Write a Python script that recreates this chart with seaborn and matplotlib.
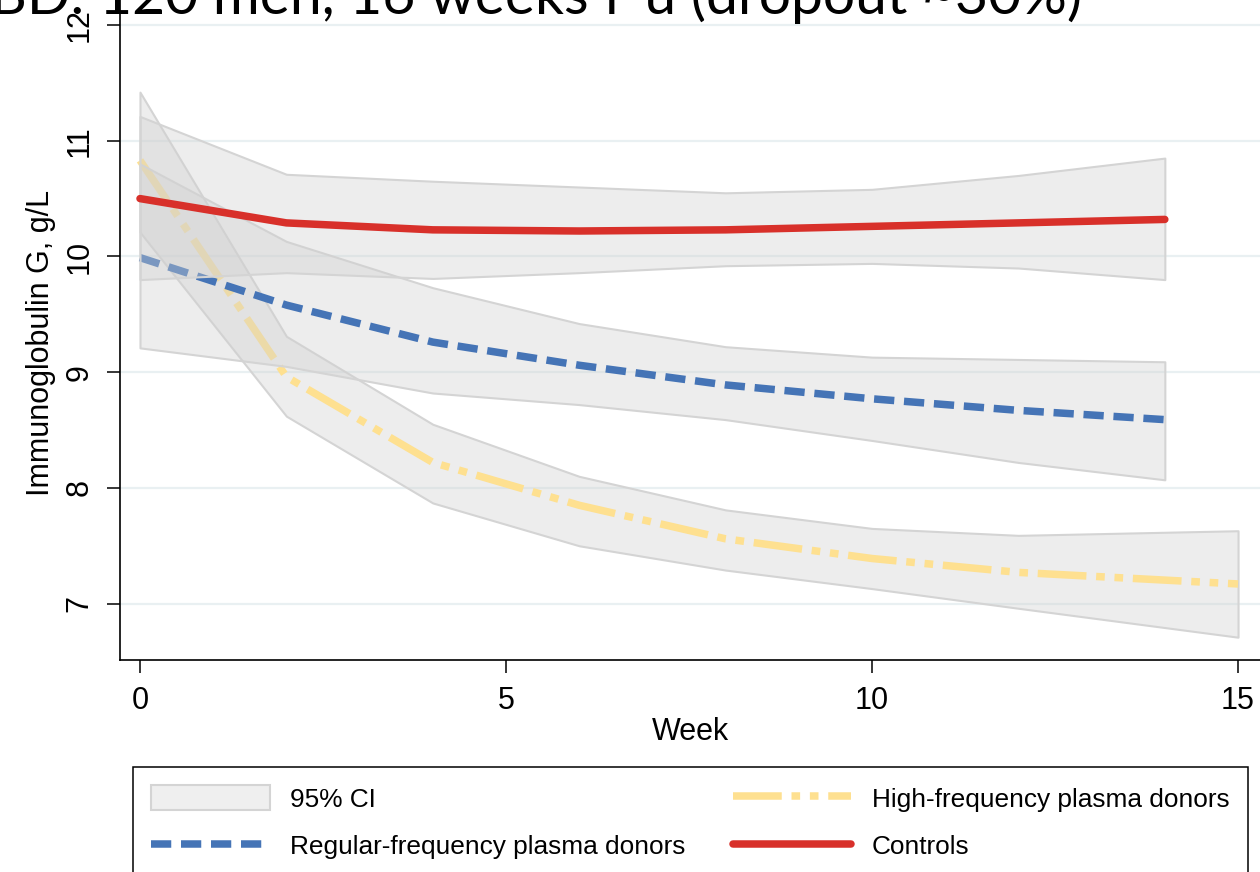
import matplotlib
matplotlib.use("Agg")
import matplotlib.pyplot as plt
from matplotlib.patches import Patch
from matplotlib.lines import Line2D
import seaborn as sns
import pandas as pd

# values
weeks = [0, 2, 4, 6, 8, 10, 12, 14]
weeks_hf = [0, 2, 4, 6, 8, 10, 12, 15]

ctrl_mean = [10.50, 10.29, 10.23, 10.22, 10.23, 10.26, 10.29, 10.32]
ctrl_lo = [9.80, 9.86, 9.81, 9.86, 9.92, 9.94, 9.90, 9.80]
ctrl_hi = [11.21, 10.71, 10.65, 10.60, 10.55, 10.58, 10.70, 10.85]

reg_mean = [9.99, 9.58, 9.26, 9.06, 8.89, 8.77, 8.67, 8.59]
reg_lo = [9.21, 9.05, 8.82, 8.72, 8.59, 8.41, 8.22, 8.07]
reg_hi = [10.80, 10.13, 9.73, 9.42, 9.22, 9.13, 9.11, 9.09]

hf_mean = [10.83, 8.96, 8.22, 7.85, 7.56, 7.39, 7.27, 7.17]
hf_lo = [10.21, 8.62, 7.87, 7.50, 7.29, 7.13, 6.96, 6.71]
hf_hi = [11.42, 9.31, 8.55, 8.10, 7.81, 7.65, 7.59, 7.63]

labels = ["95% CI", "Regular-frequency plasma donors",
          "High-frequency plasma donors", "Controls"]
title = "BD: 120 men, 16 weeks f-u (dropout ~30%)"

sns.set_style("white")
plt.rcParams["font.family"] = ["Liberation Sans", "DejaVu Sans"]
plt.rcParams["text.color"] = "black"
plt.rcParams["axes.labelcolor"] = "black"
plt.rcParams["xtick.color"] = "black"
plt.rcParams["ytick.color"] = "black"

red = "#d8302a"
blue = "#4574b6"
yellow = "#fee090"
ci_face = (0.82, 0.82, 0.82, 0.38)
ci_edge = "#d4d4d4"
lw = 5.4
reg_style = (0, (2.7, 1.3))
hf_style = (0, (6.5, 1.3, 1.15, 1.3, 1.15, 1.3))

fig = plt.figure(figsize=(12.6, 8.72), dpi=100)
ax = fig.add_axes([120 / 1260, 212 / 872, 1140 / 1260, 660 / 872])

hf = pd.DataFrame({"week": weeks_hf, "igg": hf_mean})
reg = pd.DataFrame({"week": weeks, "igg": reg_mean})
ctrl = pd.DataFrame({"week": weeks, "igg": ctrl_mean})

# draw order: each CI then its line, so later bands tint earlier lines
ax.fill_between(weeks_hf, hf_lo, hf_hi, facecolor=ci_face, edgecolor=ci_edge,
                linewidth=1.5, zorder=2.0)
sns.lineplot(data=hf, x="week", y="igg", ax=ax, color=yellow, linewidth=lw,
             linestyle=hf_style, zorder=2.1)
ax.fill_between(weeks, reg_lo, reg_hi, facecolor=ci_face, edgecolor=ci_edge,
                linewidth=1.5, zorder=2.2)
sns.lineplot(data=reg, x="week", y="igg", ax=ax, color=blue, linewidth=lw,
             linestyle=reg_style, zorder=2.3)
ax.fill_between(weeks, ctrl_lo, ctrl_hi, facecolor=ci_face, edgecolor=ci_edge,
                linewidth=1.5, zorder=2.4)
sns.lineplot(data=ctrl, x="week", y="igg", ax=ax, color=red, linewidth=lw,
             zorder=2.5)

ax.set_xlim(-0.273, 15.30)
ax.set_ylim(6.513, 12.216)
ax.set_xticks([0, 5, 10, 15])
ax.set_yticks([7, 8, 9, 10, 11, 12])
ax.yaxis.grid(True, color="#e9f0f2", linewidth=1.6)
ax.xaxis.grid(False)
ax.set_axisbelow(True)

for side in ["top", "right"]:
    ax.spines[side].set_visible(False)
for side in ["left", "bottom"]:
    ax.spines[side].set_color("black")
    ax.spines[side].set_linewidth(1.2)

ax.tick_params(axis="both", direction="out", length=9.4, width=1.1,
               color="black", labelsize=22, pad=9, left=True, bottom=True)
ax.tick_params(axis="y", labelrotation=90)
for t in ax.get_yticklabels():
    t.set_va("center")

ax.set_xlabel("Week", fontsize=22)
ax.set_ylabel("Immunoglobulin G, g/L", fontsize=22)
ax.xaxis.set_label_coords(0.5, -0.086)
ax.yaxis.set_label_coords(-0.056, 0.480)

handles = [
    Patch(facecolor="#efefef", edgecolor=ci_edge, linewidth=1.5),
    Line2D([], [], color=blue, linewidth=lw, linestyle=reg_style),
    Line2D([], [], color=yellow, linewidth=lw, linestyle=hf_style),
    Line2D([], [], color=red, linewidth=lw),
]
leg = fig.legend(handles, labels, loc="upper left", ncol=2, mode="expand",
                 bbox_to_anchor=(133 / 1260, -0.2, 1115 / 1260, 0.2 + 105 / 872),
                 fontsize=18.9, frameon=True, fancybox=False, framealpha=1,
                 edgecolor="black", handlelength=4.5, handleheight=1.05,
                 handletextpad=0.8, labelspacing=0.82, borderpad=0.7,
                 borderaxespad=0)
leg.get_frame().set_linewidth(1.1)

fig.text(1082 / 1260, 1 - 14 / 872, title, ha="right", va="baseline",
         fontsize=41, family=["Lato", "DejaVu Sans"])

fig.savefig("out.png", dpi=100)
